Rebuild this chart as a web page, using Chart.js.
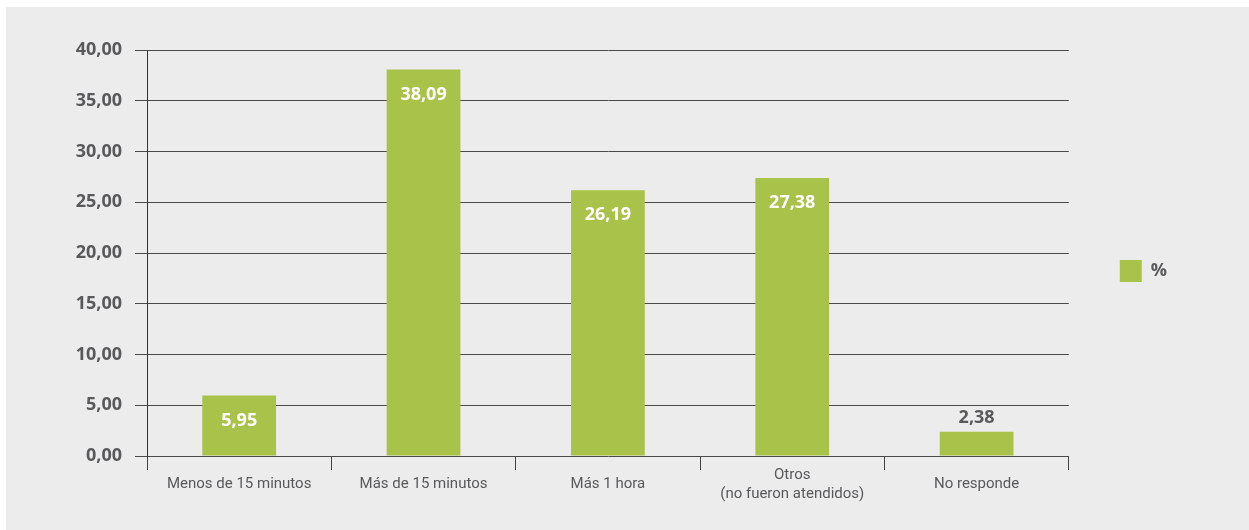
<!DOCTYPE html>
<html>
<head>
<meta charset="utf-8">
<script src="https://cdn.jsdelivr.net/npm/chart.js@4.4.1/dist/chart.umd.min.js"></script>
<style>
  html, body { margin: 0; padding: 0; background: #ffffff; }
  #wrap { position: absolute; left: 6px; top: 7px; width: 1243px; height: 523px; background: #ececec; }
</style>
</head>
<body>
<div id="wrap"><canvas id="tiempo"></canvas></div>
<script>
// categorias y valores (%)
const categorias = [
  "Menos de 15 minutos",
  "Más de 15 minutos",
  "Más 1 hora",
  ["Otros", "(no fueron atendidos)"],
  "No responde"
];
const porcentajes = [5.95, 38.09, 26.19, 27.38, 2.38];
const serie = "%";
const yMax = 40;
const yPaso = 5;

const verde = "#a9c249";
const gris = "#58595b";

const fmt = (v) => v.toFixed(2).replace(".", ",");

// etiquetas de valor sobre las barras
const etiquetas = {
  id: "etiquetas",
  afterLayout(chart) {
    // sube un poco la leyenda
    chart.legend.top -= 19;
    chart.legend.bottom -= 19;
  },
  afterDatasetsDraw(chart) {
    const ctx = chart.ctx;
    const meta = chart.getDatasetMeta(0);
    ctx.save();
    ctx.font = "bold 18px 'Open Sans'";
    ctx.textAlign = "center";
    ctx.textBaseline = "middle";
    meta.data.forEach((bar, i) => {
      const v = porcentajes[i];
      if (v > 4) {
        ctx.fillStyle = "#ffffff";
        ctx.fillText(fmt(v), bar.x, bar.y + 25);
      } else {
        ctx.fillStyle = gris;
        ctx.fillText(fmt(v), bar.x, bar.y - 14);
      }
    });
    ctx.restore();
  }
};

let tiempo = document.getElementById("tiempo").getContext("2d");

new Chart(tiempo, {
  type: "bar",
  data: {
    labels: categorias,
    datasets: [
      {
        label: serie,
        data: porcentajes,
        backgroundColor: verde,
        borderWidth: 0,
        categoryPercentage: 1,
        barPercentage: 0.4
      }
    ]
  },
  options: {
    responsive: true,
    maintainAspectRatio: false,
    animation: false,
    layout: { padding: { top: 43, right: 72, bottom: 0, left: 0 } },
    plugins: {
      tooltip: { enabled: false },
      legend: {
        position: "right",
        labels: {
          boxWidth: 22,
          boxHeight: 22,
          padding: 10,
          color: gris,
          font: { family: "'Open Sans'", size: 18, weight: "bold" }
        }
      }
    },
    scales: {
      x: {
        grid: {
          offset: true,
          drawOnChartArea: false,
          drawTicks: true,
          tickLength: 14,
          color: "#444444"
        },
        border: { display: false },
        ticks: {
          color: gris,
          padding: 5,
          maxRotation: 0,
          crossAlign: "center",
          font: { family: "'Liberation Sans Narrow', Roboto", size: 15, lineHeight: 1.27 }
        },
        afterFit(s) { s.height = 74; }
      },
      y: {
        min: 0,
        max: yMax,
        ticks: {
          stepSize: yPaso,
          padding: 13,
          color: gris,
          font: { family: "'Open Sans'", size: 18, weight: "bold" },
          callback: (v) => fmt(v)
        },
        grid: { color: "#4a4a4a", tickLength: 12 },
        border: { color: "#333333" },
        afterFit(s) { s.width = 141; }
      },
      yR: {
        position: "right",
        display: true,
        grid: { display: false },
        border: { display: false },
        ticks: { display: false },
        afterFit(s) { s.width = 41; }
      }
    }
  },
  plugins: [etiquetas]
});
</script>
</body>
</html>
